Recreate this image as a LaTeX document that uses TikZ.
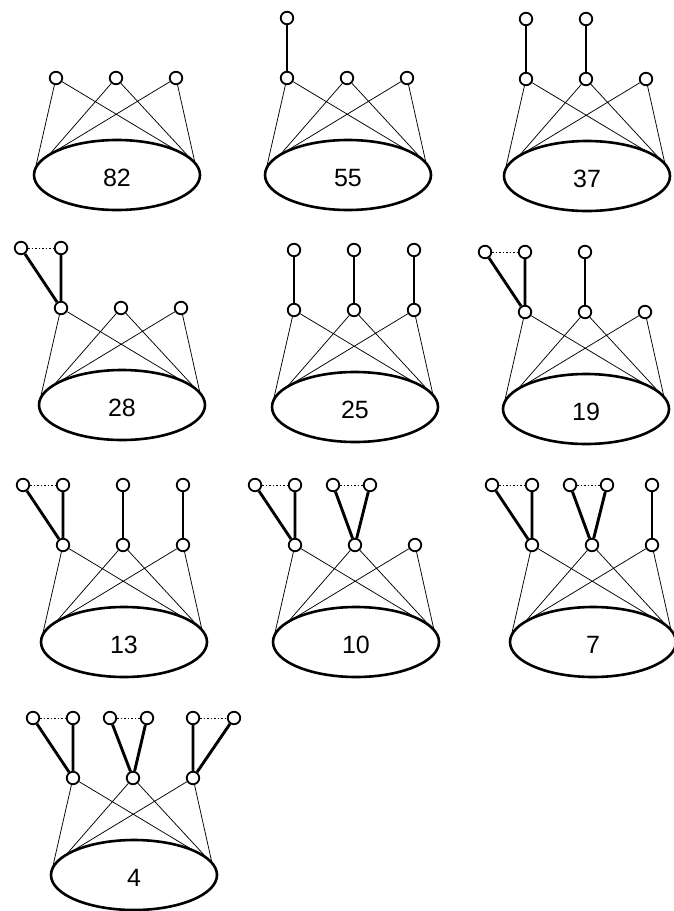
\documentclass[tikz,border=0pt]{standalone}
\usepackage{fontspec}
\setmainfont{Liberation Sans}
\usetikzlibrary{shapes.geometric, positioning}
\tikzset{
    vtx/.style={circle, draw, line width=1.8pt, minimum size=12.5pt, inner sep=0pt, fill=white},
    blob/.style={ellipse, draw, line width=2.6pt, minimum width=166pt, minimum height=70pt, inner sep=0pt, text height=23pt, font=\fontsize{25}{25}\selectfont},
    link/.style={line width=0.75pt},
    bond/.style={line width=2.9pt},
    pairing/.style={line width=0.8pt, dash pattern=on 1.5pt off 2pt},
}
% one panel: three vertices over the blob
\newcommand{\SCPanel}[4]{
    \node[vtx] (#1a) at (#2-60,#3) {};
    \node[vtx] (#1b) at (#2,#3) {};
    \node[vtx] (#1c) at (#2+60,#3) {};
    \node[blob] (#1e) at (#2+1,#3+97) {#4};
    \path (#1e.center) ++(170:83pt and 35pt) coordinate (#1p1)
          (#1e.center) ++(145:83pt and 35pt) coordinate (#1p2)
          (#1e.center) ++(27:83pt and 35pt) coordinate (#1q1)
          (#1e.center) ++(20:83pt and 35pt) coordinate (#1q2);
    \draw[link] (#1a) -- (#1p1) (#1a) -- (#1q1)
                (#1b) -- (#1p2) (#1b) -- (#1q1)
                (#1c) -- (#1p2) (#1c) -- (#1q2);
}
\newcommand{\SCStem}[2]{
    \node[vtx, above=60pt of #1] (#2) {};
    \draw[bond] (#1) -- (#2);
}
\newcommand{\SCPair}[5]{
    \node[vtx, above=60pt of #1, xshift=#4pt] (#2) {};
    \node[vtx, above=60pt of #1, xshift=#5pt] (#3) {};
    \draw[bond] (#1) -- (#2) (#1) -- (#3);
    \draw[pairing] (#2) -- (#3);
}
\begin{document}
\begin{tikzpicture}[x=1pt, y=-1pt, on grid]
    \useasboundingbox (0,0) rectangle (673,911);

    % row 1
    \SCPanel{A}{116}{78}{82}
    \SCPanel{B}{347}{78}{55}
    \SCStem{Ba}{Bat}
    \SCPanel{C}{586}{79}{37}
    \SCStem{Ca}{Cat}
    \SCStem{Cb}{Cbt}

    % row 2
    \SCPanel{D}{121}{308}{28}
    \SCPair{Da}{Dal}{Dar}{-40}{0}
    \SCPanel{E}{354}{310}{25}
    \SCStem{Ea}{Eat}
    \SCStem{Eb}{Ebt}
    \SCStem{Ec}{Ect}
    \SCPanel{F}{585}{312}{19}
    \SCPair{Fa}{Fal}{Far}{-40}{0}
    \SCStem{Fb}{Fbt}

    % row 3
    \SCPanel{G}{123}{545}{13}
    \SCPair{Ga}{Gal}{Gar}{-40}{0}
    \SCStem{Gb}{Gbt}
    \SCStem{Gc}{Gct}
    \SCPanel{H}{355}{545}{10}
    \SCPair{Ha}{Hal}{Har}{-40}{0}
    \SCPair{Hb}{Hbl}{Hbr}{-22}{15}
    \SCPanel{I}{592}{545}{7}
    \SCPair{Ia}{Ial}{Iar}{-40}{0}
    \SCPair{Ib}{Ibl}{Ibr}{-22}{15}
    \SCStem{Ic}{Ict}

    % row 4
    \SCPanel{J}{133}{778}{4}
    \SCPair{Ja}{Jal}{Jar}{-40}{0}
    \SCPair{Jb}{Jbl}{Jbr}{-23}{14}
    \SCPair{Jc}{Jcl}{Jcr}{0}{41}
\end{tikzpicture}
\end{document}
